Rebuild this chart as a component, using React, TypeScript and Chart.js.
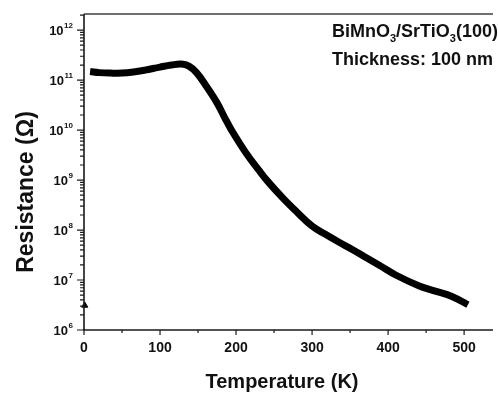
import React, { useEffect, useRef } from "react";
import { Chart, registerables } from "chart.js";

Chart.register(...registerables);

// Temperature (K) and resistance (Ohm)
const temperatureK = [8, 20, 35, 50, 65, 80, 100, 115, 128, 138, 148, 160, 175, 185, 194, 213, 230, 242, 262, 280, 300, 317, 335, 354, 372, 389, 410, 441, 462, 484, 505];
const resistanceOhm = [1.48e11, 1.41e11, 1.38e11, 1.38e11, 1.45e11, 1.58e11, 1.82e11, 2.0e11, 2.09e11, 1.9e11, 1.41e11, 7.9e10, 3.5e10, 1.78e10, 1.0e10, 3.5e9, 1.58e9, 9.3e8, 4.3e8, 2.3e8, 1.2e8, 8.3e7, 5.75e7, 4.0e7, 2.75e7, 1.95e7, 1.26e7, 7.6e6, 6.0e6, 4.7e6, 3.2e6];

// stray triangle marker near the origin
const strayTemperatureK = [1];
const strayResistanceOhm = [3.1e6];

// axis ticks
const xMajorTicks = [0, 100, 200, 300, 400, 500];
const xMinorTicks = [50, 150, 250, 350, 450];
const yDecadeExponents = [6, 7, 8, 9, 10, 11, 12];
const yMinorMultipliers = [2, 3, 4, 5, 6, 7, 8, 9];

const xTitle = "Temperature (K)";
const yTitle = "Resistance (\u03A9)";
const annotationLine1 = [
  { text: "BiMnO", sub: false },
  { text: "3", sub: true },
  { text: "/SrTiO", sub: false },
  { text: "3", sub: true },
  { text: "(100)", sub: false },
];
const annotationLine2 = "Thickness: 100 nm";

const FONT = "'Liberation Sans', Arial, Helvetica, sans-serif";

const decorPlugin = {
  id: "decor",
  afterDraw(chart: any) {
    const { ctx, chartArea: ca, scales } = chart;
    const x = scales.x;
    const y = scales.y;
    ctx.save();

    // top frame line
    ctx.strokeStyle = "#707070";
    ctx.lineWidth = 2;
    ctx.beginPath();
    ctx.moveTo(ca.left, ca.top);
    ctx.lineTo(ca.right, ca.top);
    ctx.stroke();

    // axes
    ctx.strokeStyle = "#1a1a1a";
    ctx.lineWidth = 1.6;
    ctx.beginPath();
    ctx.moveTo(ca.left, ca.top);
    ctx.lineTo(ca.left, ca.bottom);
    ctx.moveTo(ca.left - 1, ca.bottom);
    ctx.lineTo(ca.right, ca.bottom);
    ctx.stroke();

    // y ticks
    ctx.lineWidth = 1.2;
    ctx.beginPath();
    for (const e of yDecadeExponents) {
      const py = y.getPixelForValue(Math.pow(10, e));
      ctx.moveTo(ca.left - 7, py);
      ctx.lineTo(ca.left, py);
      for (const k of yMinorMultipliers) {
        const v = k * Math.pow(10, e);
        if (v > y.max) continue;
        const pm = y.getPixelForValue(v);
        ctx.moveTo(ca.left - 4, pm);
        ctx.lineTo(ca.left, pm);
      }
    }
    // x ticks
    for (const t of xMajorTicks) {
      const px = x.getPixelForValue(t);
      ctx.moveTo(px, ca.bottom);
      ctx.lineTo(px, ca.bottom + 5);
    }
    for (const t of xMinorTicks) {
      const px = x.getPixelForValue(t);
      ctx.moveTo(px, ca.bottom);
      ctx.lineTo(px, ca.bottom + 3);
    }
    ctx.stroke();

    ctx.fillStyle = "#111";
    // y tick labels 10^n
    for (const e of yDecadeExponents) {
      const py = y.getPixelForValue(Math.pow(10, e));
      const exp = String(e);
      ctx.font = `bold 8px ${FONT}`;
      const ew = ctx.measureText(exp).width;
      const right = ca.left - 11;
      ctx.textAlign = "left";
      ctx.textBaseline = "alphabetic";
      ctx.fillText(exp, right - ew, py - 2);
      ctx.font = `bold 13px ${FONT}`;
      ctx.textAlign = "right";
      ctx.fillText("10", right - ew - 0.5, py + 5);
    }

    // x tick labels
    ctx.font = `bold 14px ${FONT}`;
    ctx.textAlign = "center";
    ctx.textBaseline = "alphabetic";
    for (const t of xMajorTicks) {
      ctx.fillText(String(t), x.getPixelForValue(t), ca.bottom + 22);
    }

    // x title
    ctx.font = `bold 20px ${FONT}`;
    ctx.textAlign = "center";
    ctx.fillText(xTitle, 282, 388);

    // y title
    ctx.save();
    ctx.translate(33, 192);
    ctx.rotate(-Math.PI / 2);
    ctx.font = `bold 23px ${FONT}`;
    ctx.textAlign = "center";
    ctx.fillText(yTitle, 0, 0);
    ctx.restore();

    // annotation
    ctx.textAlign = "left";
    let ax = 332;
    for (const seg of annotationLine1) {
      if (seg.sub) {
        ctx.font = `bold 11px ${FONT}`;
        ctx.fillText(seg.text, ax, 42);
      } else {
        ctx.font = `bold 18px ${FONT}`;
        ctx.fillText(seg.text, ax, 37);
      }
      ax += ctx.measureText(seg.text).width;
    }
    ctx.font = `bold 18px ${FONT}`;
    ctx.fillText(annotationLine2, 332, 65);

    ctx.restore();
  },
};

export default function App() {
  const canvasRef = useRef<HTMLCanvasElement | null>(null);

  useEffect(() => {
    document.body.style.margin = "0";
    document.body.style.overflow = "hidden";
    const canvas = canvasRef.current;
    if (!canvas) return;
    const chart = new Chart(canvas, {
      type: "scatter",
      data: {
        datasets: [
          {
            data: temperatureK.map((t, i) => ({ x: t, y: resistanceOhm[i] })),
            showLine: true,
            borderColor: "#000",
            backgroundColor: "#000",
            borderWidth: 7,
            pointRadius: 0,
            tension: 0.4,
            borderCapStyle: "butt",
            borderJoinStyle: "round",
          } as any,
          {
            data: strayTemperatureK.map((t, i) => ({ x: t, y: strayResistanceOhm[i] })),
            showLine: false,
            pointStyle: "triangle",
            pointRadius: 3.5,
            backgroundColor: "#000",
            borderColor: "#000",
            borderWidth: 1,
            clip: false,
          } as any,
        ],
      },
      options: {
        animation: false,
        responsive: false,
        maintainAspectRatio: false,
        layout: { padding: { top: 14, left: 0, right: 0, bottom: 0 } },
        plugins: { legend: { display: false }, tooltip: { enabled: false } },
        scales: {
          x: {
            type: "linear",
            min: 0,
            max: 538,
            grid: { display: false },
            border: { display: false },
            ticks: { display: false },
            afterFit: (s: any) => {
              s.height = 63;
            },
          },
          y: {
            type: "logarithmic",
            min: 1e6,
            max: 2.1e12,
            grid: { display: false },
            border: { display: false },
            ticks: { display: false },
            afterFit: (s: any) => {
              s.width = 84;
            },
          },
        },
      } as any,
      plugins: [decorPlugin],
    });
    return () => chart.destroy();
  }, []);

  return (
    <div style={{ width: 498, height: 393 }}>
      <canvas ref={canvasRef} width={498} height={393} style={{ display: "block", width: 498, height: 393 }} />
    </div>
  );
}
